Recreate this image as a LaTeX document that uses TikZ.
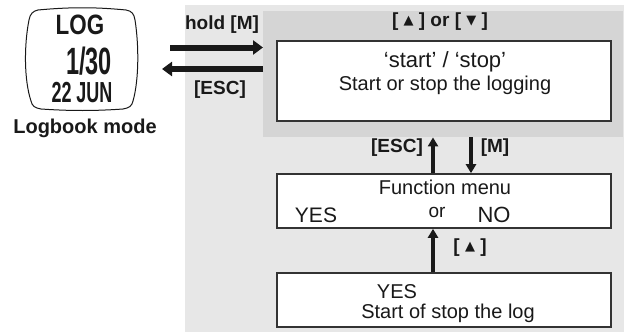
\documentclass[tikz,border=0pt]{standalone}
\usepackage{fontspec}
\usepackage{graphicx}
\setmainfont{Liberation Sans}
\newfontfamily\symfont{DejaVu Sans}
\usetikzlibrary{arrows.meta}

\definecolor{bglight}{gray}{0.905}
\definecolor{bgdark}{gray}{0.835}
\definecolor{ink}{gray}{0.1}
\definecolor{frame}{gray}{0.2}

% small key symbols
\newcommand{\keyup}{{\symfont\fontsize{13}{13}\selectfont\raisebox{2pt}{▲}}}
\newcommand{\keydown}{{\symfont\fontsize{13}{13}\selectfont\raisebox{2pt}{▼}}}
\newcommand{\fs}[1]{\fontsize{#1}{#1}\selectfont}

\begin{document}
\begin{tikzpicture}[x=1pt,y=-1pt,
  screen/.style={draw=frame, line width=1.6pt, fill=white, inner sep=0pt,
                 minimum width=334pt, anchor=center},
  keylbl/.style={font=\fs{19}\bfseries, text=ink, inner sep=0pt},
  plain/.style={text=ink, inner sep=0pt},
  bigarrow/.style={ink, line width=6pt, -{Triangle[length=10pt,width=14pt]}},
  vertarrow/.style={ink, line width=4pt, -{Triangle[length=9pt,width=10pt]}},
  lcd/.style={text=ink, inner sep=0pt}]

\useasboundingbox (0,0) rectangle (624,332);

% backgrounds
\node[fill=bglight, inner sep=0pt, minimum width=439pt, minimum height=327pt,
      anchor=north west] (bg) at (185,5) {};
\node[fill=bgdark, inner sep=0pt, minimum width=360pt, minimum height=126pt,
      anchor=north west] (panel) at (263,11) {};

% watch display
\draw[ink, line width=1pt]
  (38,10) .. controls (70,7) and (95,7) .. (126,10)
  .. controls (132,11) and (134,14) .. (135,20)
  .. controls (139,45) and (139,80) .. (133,101)
  .. controls (132,106) and (129,108) .. (123,109)
  .. controls (95,111) and (70,111) .. (41,109)
  .. controls (35,108) and (32,106) .. (31,101)
  .. controls (24,80) and (24,45) .. (29,20)
  .. controls (30,14) and (33,11) .. (38,10) -- cycle;
\node[lcd] (wlog) at (80,25) {\scalebox{0.8}[1]{\fs{28}\bfseries LOG}};
\node[lcd] (wnum) at (89,61) {\scalebox{0.62}[1]{\fs{38}\bfseries 1/30}};
\node[lcd] (wdate) at (82,93) {\scalebox{0.62}[1]{\fs{29}\bfseries 22 JUN}};
\node[plain, font=\fs{20}\bfseries] (mode) at (85,128) {Logbook mode};

% screens
\node[screen, minimum height=80pt] (startbox) at (444,81) {};
\node[plain, font=\fs{22}] (t1) at (445,62) {‘start’ / ‘stop’};
\node[plain, font=\fs{20}] (t2) at (445,85) {Start or stop the logging};

\node[screen, minimum height=54pt] (funcbox) at (444,201) {};
\node[plain, font=\fs{20}] (f1) at (445,187) {Function menu};
\node[plain, font=\fs{21}] (f2) at (316,215) {YES};
\node[plain, font=\fs{19}] (f3) at (437,212) {or};
\node[plain, font=\fs{22}] (f4) at (494,215) {NO};

\node[screen, minimum height=54pt] (logbox) at (444,300) {};
\node[plain, font=\fs{20}] (l1) at (397,292) {YES};
\node[plain, font=\fs{20}] (l2) at (448,313) {Start of stop the log};

% horizontal transitions
\coordinate (hin) at (170,47.5);
\coordinate (hout) at (162,69);
\draw[bigarrow] (hin) -- (hin -| panel.west);
\draw[bigarrow] (hout -| panel.west) -- (hout);
\node[keylbl] (khold) at (222,25) {hold [M]};
\node[keylbl] (kesc1) at (220,90) {[ESC]};

% key labels
\node[keylbl] (kupdown) at (440,22) {[\;\keyup\;] or [\;\keydown\;]};

% vertical transitions
\coordinate (xa) at (433,0);
\coordinate (xb) at (471,0);
\draw[vertarrow] (funcbox.north -| xa) -- (panel.south -| xa);
\draw[vertarrow] (panel.south -| xb) -- (funcbox.north -| xb);
\draw[vertarrow] (logbox.north -| xa) -- (funcbox.south -| xa);
\node[keylbl] (kesc2) at (397,148) {[ESC]};
\node[keylbl] (km) at (495,148) {[M]};
\node[keylbl] (kup) at (470,248) {[\;\keyup\;]};
\end{tikzpicture}
\end{document}
